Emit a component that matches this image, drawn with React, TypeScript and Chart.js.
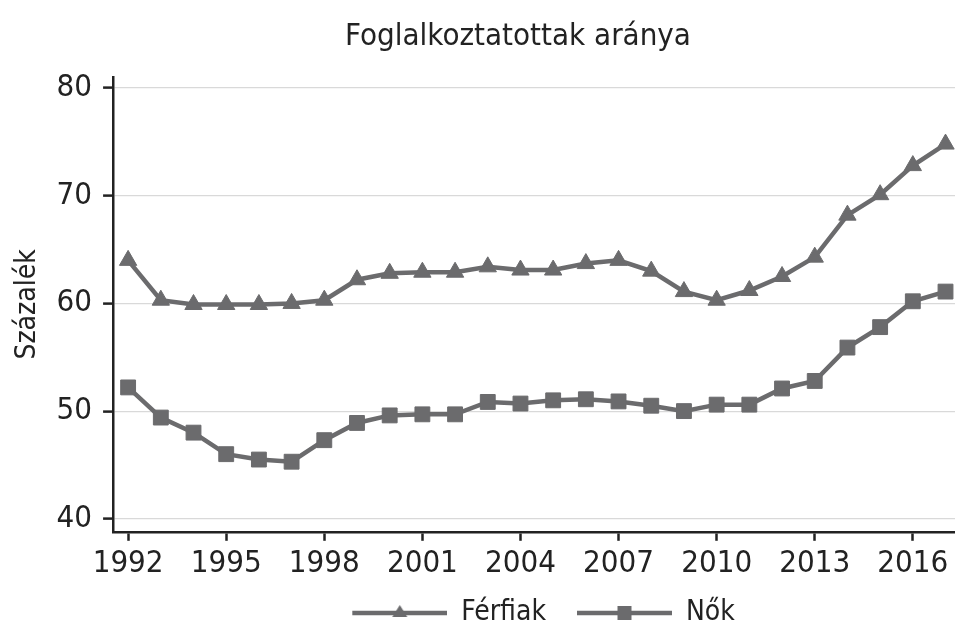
import { useEffect, useRef } from "react";
import { Chart, registerables } from "chart.js";

Chart.register(...registerables);

const years = [1992, 1993, 1994, 1995, 1996, 1997, 1998, 1999, 2000, 2001, 2002, 2003, 2004, 2005, 2006, 2007, 2008, 2009, 2010, 2011, 2012, 2013, 2014, 2015, 2016, 2017];
const ferfiak = [64.0, 60.3, 59.9, 59.9, 59.9, 60.0, 60.3, 62.2, 62.8, 62.9, 62.9, 63.4, 63.1, 63.1, 63.7, 64.0, 63.0, 61.1, 60.3, 61.2, 62.5, 64.3, 68.2, 70.1, 72.8, 74.8];
const nok = [52.2, 49.4, 48.0, 46.0, 45.5, 45.3, 47.3, 48.9, 49.6, 49.7, 49.7, 50.85, 50.7, 51.0, 51.1, 50.9, 50.5, 50.0, 50.6, 50.6, 52.1, 52.8, 55.9, 57.8, 60.2, 61.1];
const xTicks = [1992, 1995, 1998, 2001, 2004, 2007, 2010, 2013, 2016];
const yTicks = [40, 50, 60, 70, 80];
const seriesNames = ["Férfiak", "Nők"];
const chartTitle = "Foglalkoztatottak aránya";
const yTitle = "Százalék";

const FONT = "'DejaVu Sans Condensed', 'Liberation Sans Narrow', sans-serif";
const LINE = "#6b6b6d";
const TEXT = "#222222";
const ICON_GAP = 19;
const ICON_W = 95 + ICON_GAP;

function makeIcon(style: string): HTMLCanvasElement {
  const c = document.createElement("canvas");
  c.width = ICON_W;
  c.height = 24;
  const ctx = c.getContext("2d")!;
  ctx.strokeStyle = LINE;
  ctx.fillStyle = LINE;
  ctx.lineWidth = 4.5;
  ctx.beginPath();
  ctx.moveTo(ICON_GAP, 12);
  ctx.lineTo(ICON_W, 12);
  ctx.stroke();
  ctx.beginPath();
  const cx = (ICON_GAP + ICON_W) / 2;
  if (style === "triangle") {
    ctx.moveTo(cx, 4);
    ctx.lineTo(cx + 7.5, 16);
    ctx.lineTo(cx - 7.5, 16);
    ctx.closePath();
  } else {
    ctx.rect(cx - 7, 5, 14, 14);
  }
  ctx.fill();
  return c;
}

const titlePlugin = {
  id: "customTitle",
  afterDraw(chart: any) {
    const ctx = chart.ctx;
    ctx.save();
    ctx.font = `31px ${FONT}`;
    ctx.fillStyle = TEXT;
    ctx.textAlign = "center";
    ctx.textBaseline = "alphabetic";
    ctx.fillText(chartTitle, 518, 45);
    ctx.restore();
  },
};

export default function App() {
  const ref = useRef<HTMLCanvasElement>(null);
  useEffect(() => {
    if (!ref.current) return;
    const icons = [makeIcon("triangle"), makeIcon("rect")];
    const chart = new Chart(ref.current, {
      type: "line",
      data: {
        datasets: [
          {
            label: seriesNames[0],
            data: years.map((y, i) => ({ x: y, y: ferfiak[i] })),
            borderColor: LINE,
            backgroundColor: LINE,
            borderWidth: 4.5,
            pointStyle: "triangle",
            pointRadius: 10,
            pointBorderWidth: 1,
            pointBackgroundColor: LINE,
            pointBorderColor: LINE,
            tension: 0,
            clip: false,
          },
          {
            label: seriesNames[1],
            data: years.map((y, i) => ({ x: y, y: nok[i] })),
            borderColor: LINE,
            backgroundColor: LINE,
            borderWidth: 4.5,
            pointStyle: "rect",
            pointRadius: 10.5,
            pointBorderWidth: 1,
            pointBackgroundColor: LINE,
            pointBorderColor: LINE,
            tension: 0,
            clip: false,
          },
        ],
      },
      options: {
        animation: false,
        responsive: false,
        maintainAspectRatio: false,
        layout: { autoPadding: false, padding: { left: 0, right: 0, top: 77, bottom: -15 } },
        plugins: {
          title: { display: false },
          legend: {
            display: true,
            position: "bottom",
            fullSize: false,
            labels: {
              usePointStyle: true,
              pointStyleWidth: ICON_W,
              color: TEXT,
              padding: 12,
              font: { family: FONT, size: 28 },
              generateLabels: (ch: any) =>
                ch.data.datasets.map((d: any, i: number) => ({
                  text: d.label,
                  pointStyle: icons[i],
                  fillStyle: LINE,
                  strokeStyle: LINE,
                  lineWidth: 0,
                  hidden: false,
                  datasetIndex: i,
                  fontColor: TEXT,
                })),
            },
          },
          tooltip: { enabled: false },
        },
        scales: {
          x: {
            type: "linear",
            min: 1991.54,
            max: 2017.29,
            afterBuildTicks: (s: any) => {
              s.ticks = xTicks.map((v) => ({ value: v }));
            },
            ticks: {
              color: TEXT,
              font: { family: FONT, size: 31 },
              maxRotation: 0,
              autoSkip: false,
              padding: 4.5,
              callback: (v: any) => String(v),
            },
            grid: {
              drawOnChartArea: false,
              drawTicks: true,
              tickLength: 9,
              tickColor: TEXT,
              tickWidth: 2.5,
            },
            border: { color: TEXT, width: 2.5 },
          },
          y: {
            min: 38.79,
            max: 81.03,
            afterBuildTicks: (s: any) => {
              s.ticks = yTicks.map((v) => ({ value: v }));
            },
            ticks: {
              color: TEXT,
              font: { family: FONT, size: 31 },
              padding: 11,
            },
            grid: {
              color: "#d9d9d9",
              lineWidth: 1.2,
              drawTicks: true,
              tickLength: 10,
              tickColor: TEXT,
              tickWidth: 2.5,
            },
            border: { color: TEXT, width: 2.5 },
            title: {
              display: true,
              text: yTitle,
              color: TEXT,
              font: { family: FONT, size: 28 },
              padding: { top: 11, bottom: 1 },
            },
          },
        },
      },
      plugins: [titlePlugin],
    });
    return () => chart.destroy();
  }, []);
  return (
    <div style={{ position: "fixed", left: 0, top: 0, width: 955, height: 622, background: "#fff" }}>
      <canvas ref={ref} width={955} height={622} style={{ width: 955, height: 622 }} />
    </div>
  );
}
